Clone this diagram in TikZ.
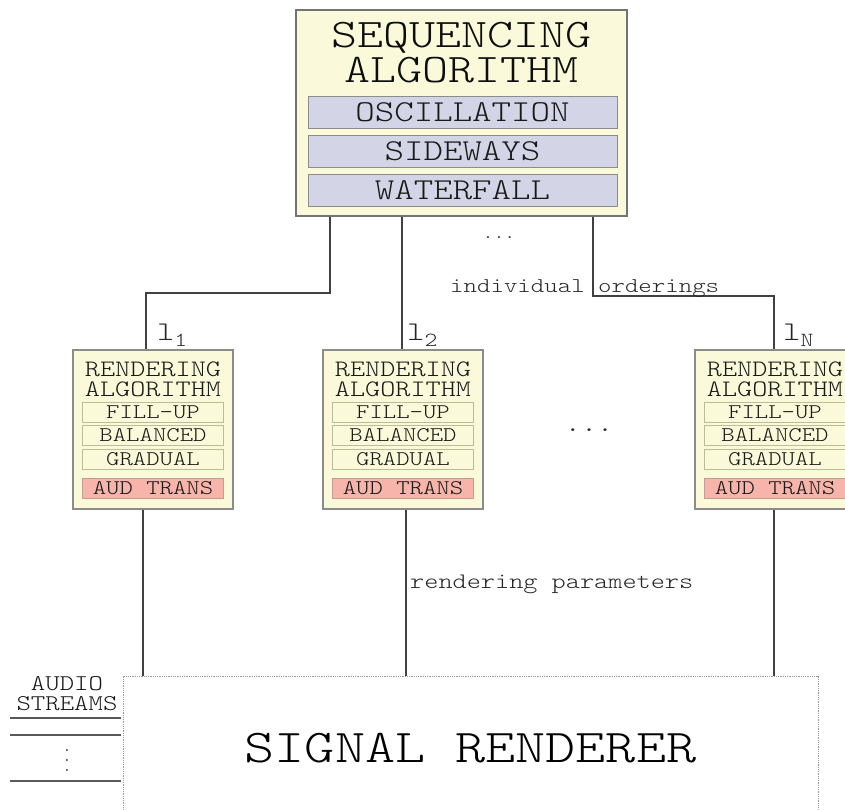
\documentclass[tikz,border=0pt]{standalone}
\usepackage{fontspec}
\setmainfont[FakeStretch=1.22]{lmmonolt10-regular.otf}
\usepackage{tikz}
\usetikzlibrary{positioning,calc}
\definecolor{paleyellow}{RGB}{250,250,218}
\definecolor{lavender}{RGB}{211,212,229}
\definecolor{barline}{RGB}{188,188,152}
\definecolor{salmon}{RGB}{246,180,170}
\definecolor{salmonline}{RGB}{196,156,146}
\newcommand{\txtsize}[2]{\fontsize{#1}{#2}\selectfont}
\tikzset{
  seqbox/.style    = {draw=black!55, fill=paleyellow, line width=1.5pt, inner sep=0pt,
                      minimum width=331pt, minimum height=206pt},
  seqtitle/.style  = {font=\txtsize{40.6}{35}, align=center, anchor=north, inner sep=0pt, text=black!95},
  seqbar/.style    = {draw=black!45, fill=lavender, line width=1pt, inner sep=0pt,
                      minimum width=309pt, minimum height=32pt, font=\txtsize{30.4}{30}, text=black!90},
  rendbox/.style   = {draw=black!45, fill=paleyellow, line width=1.3pt, inner sep=0pt,
                      minimum width=160pt, minimum height=159pt},
  rendtitle/.style = {font=\txtsize{23.6}{19.5}, align=center, anchor=north, inner sep=0pt, text=black!90},
  rendbar/.style   = {draw=barline, fill=paleyellow, line width=1pt, inner sep=0pt,
                      minimum width=141pt, minimum height=20pt, font=\txtsize{20.9}{20}, text=black!90},
  audbar/.style    = {rendbar, draw=salmonline, fill=salmon},
  sigbox/.style    = {draw=black!40, densely dotted, fill=white, line width=0.8pt, inner sep=0pt,
                      minimum width=695pt, minimum height=144pt, font=\txtsize{47}{47}, text=black},
  wire/.style      = {draw=black!75, line width=1.2pt},
  stream/.style    = {draw=black!65, line width=1.3pt},
  lbl/.style       = {font=\txtsize{21}{21}, anchor=base west, inner sep=0pt, text=black!85},
  idx/.style       = {font=\txtsize{27}{27}, anchor=base west, inner sep=0pt, text=black!85},
  dots/.style      = {anchor=base, inner sep=0pt, text=black!85},
}
\newcommand{\sub}[1]{\raisebox{-6pt}{\txtsize{20}{20}#1}}

\begin{document}
\begin{tikzpicture}[x=1pt,y=-1pt]
  \useasboundingbox (0,0) rectangle (845,809);
  \clip (0,0) rectangle (845,809);

  % ---- sequencing algorithm ----
  \node[seqbox] (seq) at (461.5,113) {};
  \node[seqtitle] (seqt) at (461.5,22) {SEQUENCING\\ALGORITHM};
  \foreach \n/\t/\y in {osc/OSCILLATION/112, side/SIDEWAYS/151, fall/WATERFALL/190.5} {
    \node[seqbar] (\n) at (462.5,\y) {\t};
  }
  \node[dots, font=\txtsize{17}{17}] (topdots) at (499,238) {...};

  % ---- rendering algorithms ----
  \foreach \i/\x in {1/153, 2/403, N/775} {
    \node[rendbox] (r\i) at (\x,429.5) {};
    \node[rendtitle] (rt\i) at (\x,362) {RENDERING\\ALGORITHM};
    \node[rendbar] (fill\i) at (\x,412) {FILL-UP};
    \node[rendbar] (bal\i) at (\x,435.5) {BALANCED};
    \node[rendbar] (grad\i) at (\x,459.5) {GRADUAL};
    \node[audbar] (aud\i) at (\x,488.5) {AUD TRANS};
  }
  \node[dots, font=\txtsize{25}{25}] (middots) at (589,431) {...};

  % orderings from the sequencer
  \coordinate (o1) at (330,217);
  \coordinate (k1) at (146,293);
  \coordinate (o2) at (402,217);
  \coordinate (o3) at (593,217);
  \coordinate (k3) at (774,296);
  \draw[wire] (o1) |- (k1) -- (k1 |- r1.north);
  \draw[wire] (o2) -- (o2 |- r2.north);
  \draw[wire] (o3) |- (k3) -- (k3 |- rN.north);
  \node[lbl] (ord) at (450,292) {individual orderings};
  \node[idx] (l1) at (157,340) {l\sub{1}};
  \node[idx] (l2) at (407,340) {l\sub{2}};
  \node[idx] (lN) at (783,340) {l\sub{N}};

  % ---- signal renderer ----
  \node[sigbox] (renderer) at (470.5,748) {SIGNAL RENDERER};
  \coordinate (d1) at (143,0);
  \coordinate (d2) at (406,0);
  \coordinate (dN) at (774,0);
  \foreach \i in {1,2,N} {
    \draw[wire] (d\i |- r\i.south) -- (d\i |- renderer.north);
  }
  \node[lbl, font=\txtsize{22.1}{22}] (par) at (410,588) {rendering parameters};

  % audio streams
  \node[rendtitle, font=\txtsize{22.5}{20}] (aud) at (67,676) {AUDIO\\STREAMS};
  \foreach \s/\y in {1/718, 2/735, 3/781} {
    \coordinate (s\s) at (10,\y);
    \draw[stream] (s\s) -- ([xshift=-2pt]s\s -| renderer.west);
  }
  \node[inner sep=0pt, rotate=90, font=\txtsize{15.6}{15}, text=black!85] (vdots) at (67,760) {...};
\end{tikzpicture}
\end{document}
